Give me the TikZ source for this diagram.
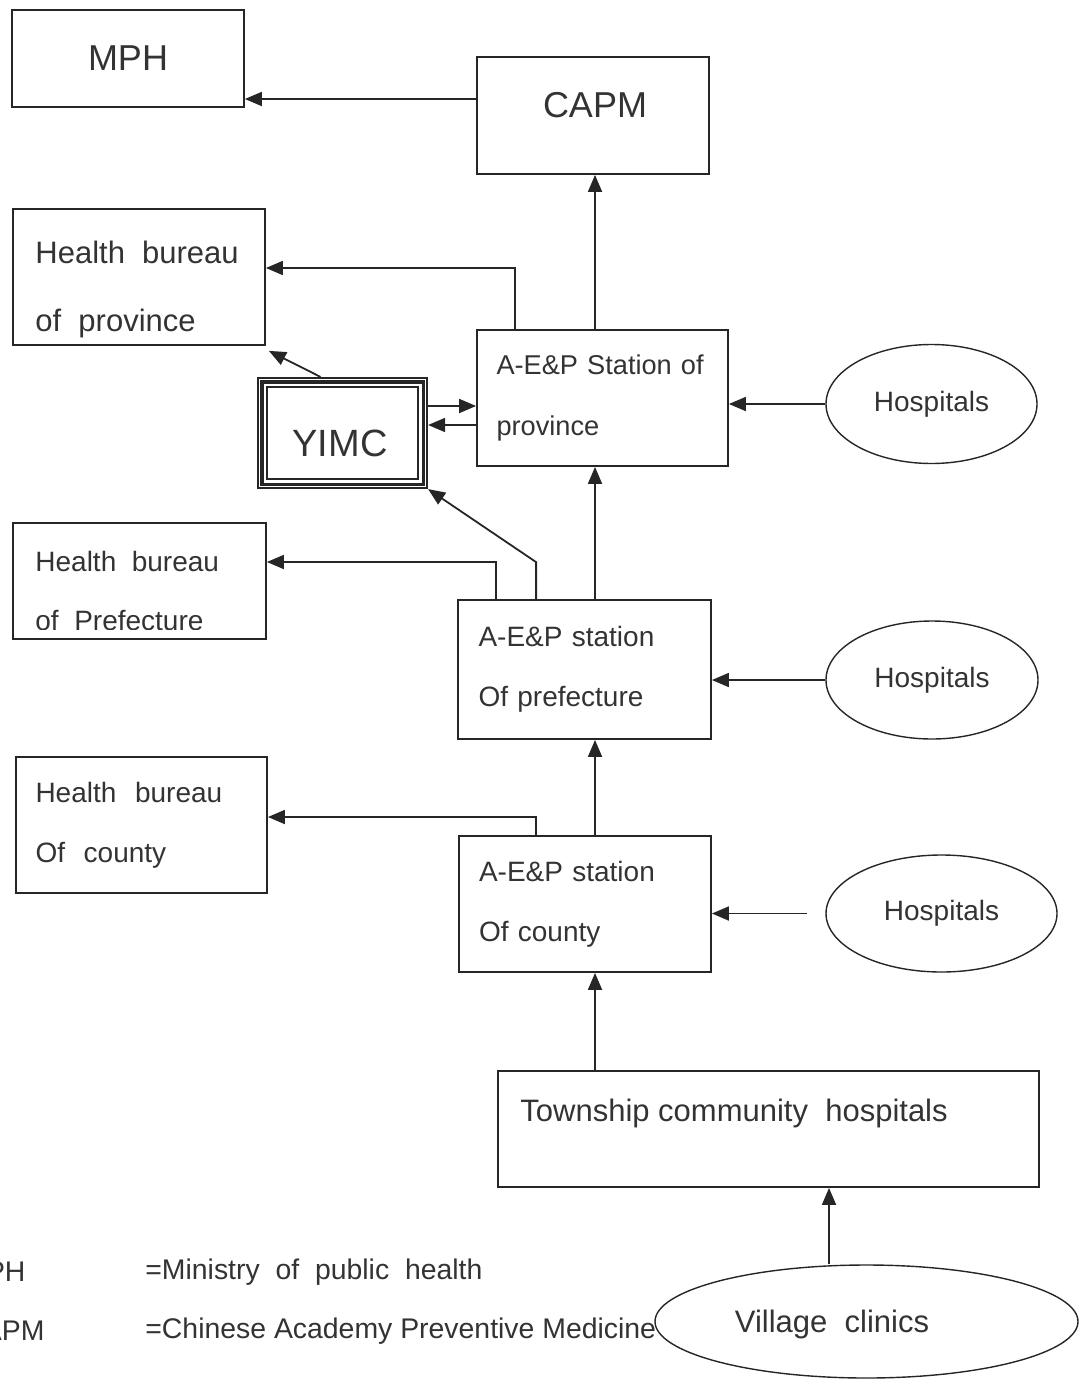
\documentclass[tikz,border=0pt]{standalone}
\usepackage{fontspec}
\setmainfont{Liberation Sans}
\usetikzlibrary{arrows.meta,calc,shapes.geometric}

\begin{document}
\begin{tikzpicture}[
    x=0.5pt, y=-0.5pt,
    every node/.style={text=black!80},
    box/.style={draw=black!85, line width=0.9pt, minimum width=126pt, minimum height=68pt, inner sep=0pt},
    station/.style={box, align=left, text width=106pt, font=\fontsize{14}{30.5}\selectfont},
    bureau/.style={box, align=left, text width=106pt, font=\fontsize{14}{30}\selectfont},
    boxtxt/.style={anchor=west, align=left, inner sep=0pt},
    hosp/.style={draw=black!85, line width=0.7pt, ellipse, minimum width=106pt, minimum height=59pt, inner sep=0pt, font=\fontsize{14}{16}\selectfont},
    big/.style={font=\fontsize{18}{20}\selectfont},
    lbl/.style={anchor=west, inner sep=0pt, font=\fontsize{14.2}{16}\selectfont},
    arr/.style={-{Triangle[length=8.5pt,width=7pt]}, line width=0.9pt, draw=black!85}
]
\useasboundingbox (0,0) rectangle (1084,1380);
\clip (0,0) rectangle (1084,1380);

% top level
\node[box, big, minimum width=116pt, minimum height=48.5pt] (mph) at (128,58.5) {MPH};
\node[box, minimum width=116pt, minimum height=58.5pt] (capm) at (593,115.5) {};
\node[big] (capmtxt) at (595,105) {CAPM};

% province
\node[box] (hbprov) at (139,277) {};
\node[boxtxt, font=\fontsize{15.5}{34}\selectfont] (hbprovtxt) at (35,289) {Health\ \ bureau\\of\ \ province};
\node[station, minimum width=125.5pt, font=\fontsize{13.6}{30.5}\selectfont] (stprov) at (602.5,398) {A-E\&P Station of\\province};
\node[hosp, minimum width=105.5pt, minimum height=59.5pt] (hosp1) at (931.5,404) {Hospitals};
\node[box, minimum width=84.5pt, minimum height=55pt, line width=1.1pt] (yimc) at (342.5,433) {};
\draw[line width=1.6pt, draw=black!85] ([shift={(2.5pt,-2.5pt)}]yimc.north west) rectangle ([shift={(-2.5pt,2.5pt)}]yimc.south east);
\draw[line width=0.7pt, draw=black!85] ([shift={(5pt,-5pt)}]yimc.north west) rectangle ([shift={(-5pt,5pt)}]yimc.south east);
\node[font=\fontsize{19}{21}\selectfont] (yimctxt) at (340,443) {YIMC};

% prefecture
\node[box, minimum width=126.5pt, minimum height=58pt] (hbpref) at (139.5,581) {};
\begin{scope}
  \clip (hbpref.north west) rectangle ([yshift=5pt]hbpref.south east);
  \node[boxtxt, font=\fontsize{14}{29.5}\selectfont] (hbpreftxt) at (35,591) {Health\ \ bureau\\of\ \ Prefecture};
\end{scope}
\node[station, minimum width=126.5pt, minimum height=69.5pt, font=\fontsize{14}{30}\selectfont] (stpref) at (584.5,669.5) {A-E\&P station\\Of prefecture};
\node[hosp] (hosp2) at (932,680) {Hospitals};

% county
\node[bureau, minimum width=125.5pt] (hbcounty) at (141.5,825) {Health\ \ bureau\\Of\ \ county};
\node[station, font=\fontsize{14}{30}\selectfont] (stcounty) at (585,904) {A-E\&P station\\Of county};
\node[hosp, minimum width=115.5pt, minimum height=58.5pt] (hosp3) at (941.5,913.5) {Hospitals};

% township and villages
\node[box, minimum width=270.5pt, minimum height=58pt] (township) at (768.5,1129) {};
\node[boxtxt, font=\fontsize{15.5}{18}\selectfont] (townshiptxt) at (520,1113) {Township community\ \ hospitals};
\node[hosp, minimum width=211.5pt, minimum height=56.5pt] (village) at (866.5,1321.5) {};
\node[font=\fontsize{15.5}{18}\selectfont] (villagetxt) at (832,1324) {Village\ \ clinics};

% legend
\node[lbl] (mphkey) at (-38,1272) {MPH};
\node[lbl] (mphdef) at (145,1272) {=Ministry\ \ of\ \ public\ \ health};
\node[lbl] (capmkey) at (-38,1331) {CAPM};
\node[lbl] (capmdef) at (145,1331) {=Chinese Academy Preventive Medicine};

% connectors
\coordinate (spine) at (595,0);
\coordinate (capmout) at ($(capm.west)+(0,-16.5)$);
\draw[arr] (capmout) -- (mph.east |- capmout);
\draw[arr] (stprov.north -| spine) -- (capm.south -| spine);
\draw[arr] ([xshift=19.5pt]stprov.north west) |- ([yshift=4.5pt]hbprov.east);
\coordinate (yin) at ([yshift=-4pt]stprov.west);
\coordinate (yout) at ([yshift=-13.5pt]stprov.west);
\draw[arr] (yimc.east |- yin) -- (yin);
\draw[arr] (yout) -- (yimc.east |- yout);
\draw[arr] ([xshift=-11pt]yimc.north) -- ([shift={(1.5pt,-2.5pt)}]hbprov.south east);
\draw[arr] (hosp1.west) -- (stprov.east |- hosp1.west);

\draw[arr] (stpref.north -| spine) -- (stprov.south -| spine);
\draw[arr] ([xshift=19.5pt]stpref.north west) |- ([yshift=9.5pt]hbpref.east);
\draw[arr] ([xshift=39.5pt]stpref.north west) -- ++(0,-37) -- (yimc.south east);
\draw[arr] (hosp2.west) -- (stpref.east |- hosp2.west);

\draw[arr] (stcounty.north -| spine) -- (stpref.south -| spine);
\draw[arr] ([xshift=39pt]stcounty.north west) |- ([yshift=4pt]hbcounty.east);
\draw[arr, shorten <=9pt] (hosp3.west) -- (stcounty.east |- hosp3.west);

\draw[arr] (township.north -| spine) -- (stcounty.south -| spine);
\coordinate (vcx) at (829,0);
\draw[arr] (village.north -| vcx) -- (township.south -| vcx);
\end{tikzpicture}
\end{document}
